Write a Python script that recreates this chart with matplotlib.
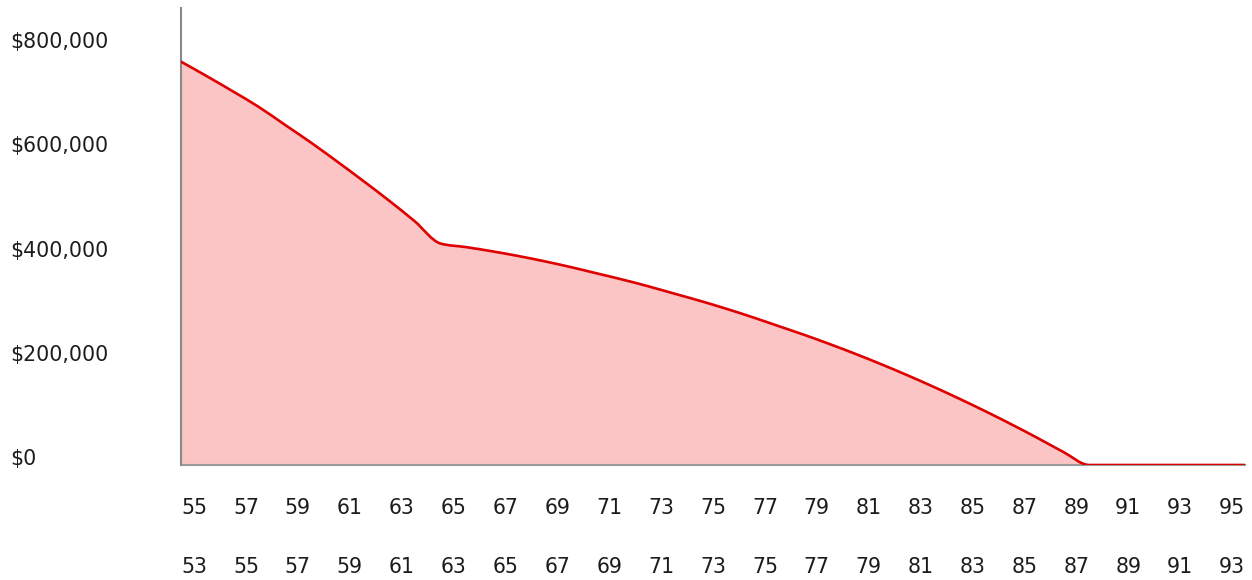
import matplotlib
matplotlib.use("Agg")
import numpy as np
import matplotlib.pyplot as plt
from matplotlib.path import Path
from matplotlib.patches import PathPatch
from matplotlib.transforms import ScaledTranslation

# Projected portfolio balance by age (dollars)
ages = list(range(55, 97))
balance = [
    774000, 746000, 717000, 687000, 653000, 619000, 583000, 546000, 508000, 468000,
    425000, 418000, 410000, 401000, 391000, 380000, 368000, 356000, 343000, 329000,
    315000, 300000, 284000, 267000, 250000, 232000, 213000, 193000, 172000, 150000,
    127000, 103000, 78000, 52000, 25000, 0, 0, 0, 0, 0, 0, 0,
]

# Axis labels: primary age row and spouse age row
age_labels = list(range(55, 96, 2))
spouse_labels = [a - 2 for a in age_labels]
y_ticks = [0, 200000, 400000, 600000, 800000]


def monotone_path(xs, ys):
    """Bezier path through the points with monotone-x tangents (no overshoot)."""
    x = np.asarray(xs, float)
    y = np.asarray(ys, float)
    h = np.diff(x)
    s = np.diff(y) / h
    t = np.zeros_like(x)
    for i in range(1, len(x) - 1):
        s0, s1 = s[i - 1], s[i]
        p = (s0 * h[i] + s1 * h[i - 1]) / (h[i - 1] + h[i])
        t[i] = (np.sign(s0) + np.sign(s1)) * min(abs(s0), abs(s1), 0.5 * abs(p))
    t[0] = (3 * s[0] - t[1]) / 2
    t[-1] = (3 * s[-1] - t[-2]) / 2
    verts = [(x[0], y[0])]
    codes = [Path.MOVETO]
    for i in range(len(x) - 1):
        dx = h[i] / 3
        verts += [(x[i] + dx, y[i] + dx * t[i]),
                  (x[i + 1] - dx, y[i + 1] - dx * t[i + 1]),
                  (x[i + 1], y[i + 1])]
        codes += [Path.CURVE4] * 3
    return verts, codes


W, H, DPI = 1252, 580, 100
fig = plt.figure(figsize=(W / DPI, H / DPI), dpi=DPI)
ax = fig.add_axes([181 / W, 1 - 465 / H, (1245 - 181) / W, (465 - 8) / H])

text_color = "#1c1c1c"
font = dict(family="DejaVu Sans", size=14.8, color=text_color)

verts, codes = monotone_path(ages, balance)
area_verts = verts + [(ages[-1], 0), (ages[0], 0), verts[0]]
area_codes = codes + [Path.LINETO, Path.LINETO, Path.CLOSEPOLY]
ax.add_patch(PathPatch(Path(area_verts, area_codes), facecolor="#fbc4c5",
                       edgecolor="none", zorder=1))
ax.add_patch(PathPatch(Path(verts, codes), facecolor="none", edgecolor="#df0000",
                       linewidth=1.9, capstyle="round", joinstyle="round", zorder=3))

ax.set_xlim(55, 96)
ax.set_ylim(0, 877000)

for side in ("top", "right"):
    ax.spines[side].set_visible(False)
ax.spines["left"].set_color("#8a8a8a")
ax.spines["left"].set_linewidth(1.5)
ax.spines["bottom"].set_color("#9a9a9a")
ax.spines["bottom"].set_linewidth(1.5)
ax.spines["bottom"].set_zorder(2)

ax.set_xticks([])
ax.set_yticks([])

# Y labels: left aligned near the figure edge, baseline on the value
ytrans = ax.get_yaxis_transform()
for v in y_ticks:
    ax.text((10 - 181) / 1064, v, f"${v:,.0f}", transform=ytrans,
            ha="left", va="baseline", **font)

# Two rows of age labels, centered in each year band
xtrans = ax.get_xaxis_transform()
row1 = xtrans + ScaledTranslation(0, -49 / DPI, fig.dpi_scale_trans)
row2 = xtrans + ScaledTranslation(0, -108 / DPI, fig.dpi_scale_trans)
for a, s in zip(age_labels, spouse_labels):
    ax.text(a + 0.5, 0, str(a), transform=row1, ha="center", va="baseline", **font)
    ax.text(a + 0.5, 0, str(s), transform=row2, ha="center", va="baseline", **font)

fig.savefig("out.png", dpi=DPI)
